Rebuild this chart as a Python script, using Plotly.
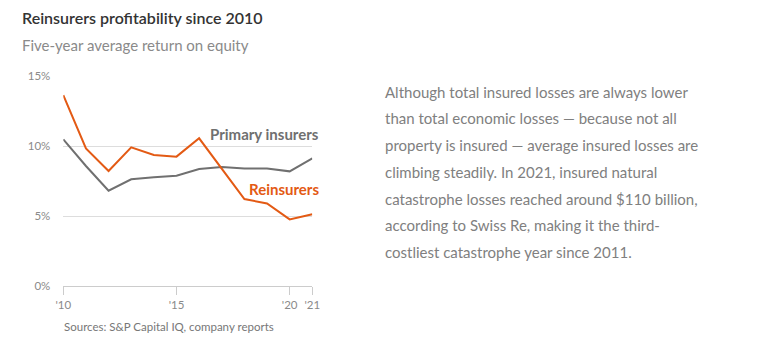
import plotly.graph_objects as go

years = list(range(2010, 2022))
reinsurers = [13.64, 9.83, 8.21, 9.9, 9.36, 9.24, 10.55, 8.4, 6.21, 5.9, 4.76, 5.12]
primary = [10.48, 8.57, 6.81, 7.62, 7.76, 7.88, 8.36, 8.5, 8.4, 8.4, 8.19, 9.12]
x_tickvals = [2010, 2015, 2020, 2021]
x_ticktext = ["'10", "'15", "'20", "'21"]
y_tickvals = [0, 5, 10, 15]
y_ticktext = ["0%", "5%", "10%", "15%"]

title = "Reinsurers profitability since 2010"
subtitle = "Five-year average return on equity"
source = "Sources: S&P Capital IQ, company reports"
paragraph = [
    "Although total insured losses are always lower",
    "than total economic losses \u2014 because not all",
    "property is insured \u2014 average insured losses are",
    "climbing steadily. In 2021, insured natural",
    "catastrophe losses reached around $110 billion,",
    "according to Swiss Re, making it the third-",
    "costliest catastrophe year since 2011.",
]

W, H = 780, 354
FONT = "Lato"
ORANGE = "#E35A14"
GREY = "#707070"

fig = go.Figure()
fig.add_trace(go.Scatter(x=years, y=primary, mode="lines", line=dict(color=GREY, width=2),
                         hoverinfo="skip", showlegend=False))
fig.add_trace(go.Scatter(x=years, y=reinsurers, mode="lines", line=dict(color=ORANGE, width=2),
                         hoverinfo="skip", showlegend=False))

def px_x(p):
    return p / W

def px_y(p):
    return 1 - p / H

fig.update_layout(
    width=W, height=H,
    margin=dict(l=0, r=0, t=0, b=0),
    paper_bgcolor="white", plot_bgcolor="white",
    font=dict(family=FONT),
    xaxis=dict(domain=[px_x(63.3), px_x(312.3)], range=[2010, 2021],
               tickvals=x_tickvals, ticktext=x_ticktext, showgrid=False,
               zeroline=False, showline=True, linecolor="#cccccc", linewidth=1,
               ticks="outside", ticklen=8, tickcolor="#cccccc", tickwidth=1,
               tickfont=dict(size=11.5, color="#8a8a8a", family=FONT), fixedrange=True,
               automargin=False),
    yaxis=dict(domain=[px_y(286), px_y(76)], range=[0, 15],
               tickvals=y_tickvals, ticktext=y_ticktext, showgrid=True,
               gridcolor="#dddddd", gridwidth=1, zeroline=False, showline=False,
               ticks="", ticklabelstandoff=12,
               tickfont=dict(size=11.5, color="#8a8a8a", family=FONT), fixedrange=True,
               automargin=False),
)

ann = []
ann.append(dict(text=title, x=px_x(20), y=px_y(18), xref="paper", yref="paper",
                xanchor="left", yanchor="middle", showarrow=False,
                font=dict(size=16, color="#333333", family=FONT, weight=600)))
ann.append(dict(text=subtitle, x=px_x(20), y=px_y(45), xref="paper", yref="paper",
                xanchor="left", yanchor="middle", showarrow=False,
                font=dict(size=15, color="#8a8a8a", family=FONT)))
ann.append(dict(text=source, x=px_x(62), y=px_y(326), xref="paper", yref="paper",
                xanchor="left", yanchor="middle", showarrow=False,
                font=dict(size=11.5, color="#777777", family=FONT)))
ann.append(dict(text="Primary insurers", x=px_x(321), y=px_y(134), xref="paper", yref="paper",
                xanchor="right", yanchor="middle", showarrow=False,
                font=dict(size=15, color=GREY, family=FONT, weight=700)))
ann.append(dict(text="Reinsurers", x=px_x(321), y=px_y(189), xref="paper", yref="paper",
                xanchor="right", yanchor="middle", showarrow=False,
                font=dict(size=15, color=ORANGE, family=FONT, weight=700)))
for i, line in enumerate(paragraph):
    ann.append(dict(text=line, x=px_x(383), y=px_y(91.7 + i * 26.7), xref="paper", yref="paper",
                    xanchor="left", yanchor="middle", showarrow=False,
                    font=dict(size=15, color="#808080", family=FONT)))
fig.update_layout(annotations=ann)

fig.write_html("out.html", config=dict(displayModeBar=False))
